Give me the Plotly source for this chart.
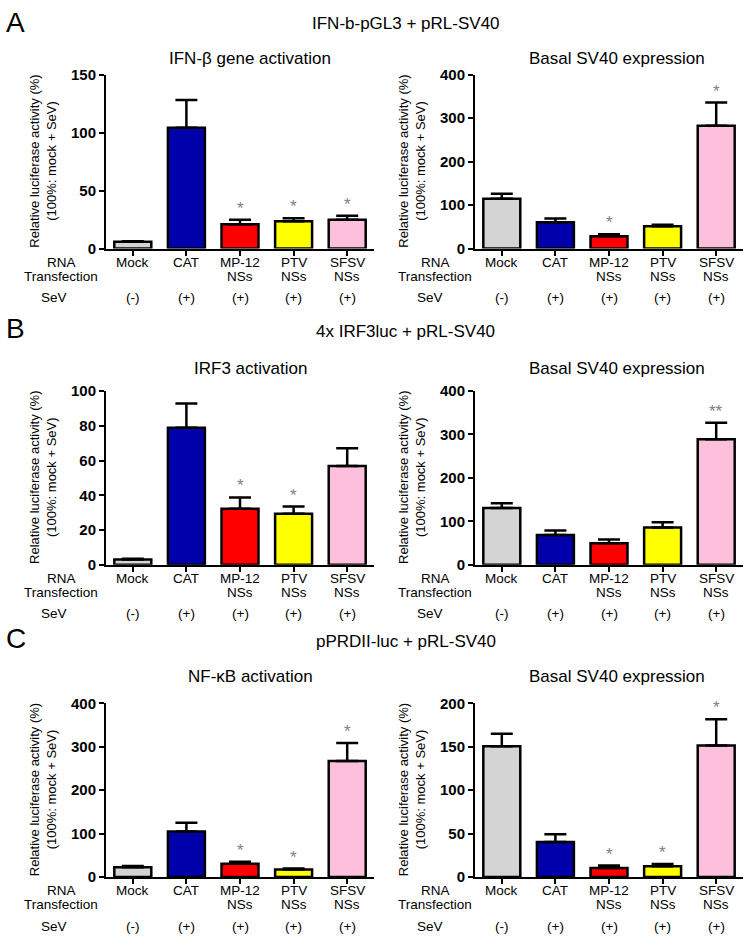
import plotly.graph_objects as go

W, H = 749, 945
FONT = "Liberation Sans, Arial, sans-serif"

cat_line1 = ["Mock", "CAT", "MP-12", "PTV", "SFSV"]
cat_line2 = ["", "", "NSs", "NSs", "NSs"]
sev_status = ["(-)", "(+)", "(+)", "(+)", "(+)"]
bar_colors = ["#d4d4d4", "#0000aa", "#ff0000", "#ffff00", "#fcbfdc"]

row_titles = ["IFN-b-pGL3 + pRL-SV40", "4x IRF3luc + pRL-SV40", "pPRDII-luc + pRL-SV40"]
row_letters = ["A", "B", "C"]

# A
ifnb_title = "IFN-β gene activation"
ifnb_vals = [6.0, 104.4, 21.1, 23.6, 24.8]
ifnb_err = [0.4, 23.9, 3.7, 2.6, 3.6]
ifnb_sig = ["", "", "*", "*", "*"]

svA_title = "Basal SV40 expression"
svA_vals = [114.7, 60.4, 28.7, 51.3, 283.0]
svA_err = [11.3, 9.0, 4.5, 3.7, 53.0]
svA_sig = ["", "", "*", "", "*"]

# B
irf3_title = "IRF3 activation"
irf3_vals = [3.0, 78.9, 32.2, 29.4, 56.9]
irf3_err = [0.5, 13.9, 6.6, 4.1, 10.1]
irf3_sig = ["", "", "*", "*", ""]

svB_title = "Basal SV40 expression"
svB_vals = [131.0, 68.5, 49.7, 85.9, 289.0]
svB_err = [10.6, 10.5, 8.3, 12.1, 38.0]
svB_sig = ["", "", "", "", "**"]

# C
nfkb_title = "NF-κB activation"
nfkb_vals = [22.6, 104.7, 30.9, 17.3, 267.4]
nfkb_err = [3.0, 20.3, 4.5, 2.3, 41.4]
nfkb_sig = ["", "", "*", "*", "*"]

svC_title = "Basal SV40 expression"
svC_vals = [150.7, 40.3, 10.5, 12.4, 151.4]
svC_err = [14.3, 9.0, 2.7, 2.6, 30.1]
svC_sig = ["", "", "*", "*", "*"]

y_max = [150, 400, 100, 400, 400, 200]
y_step = [50, 100, 20, 100, 100, 50]

panels = [
    (ifnb_title, ifnb_vals, ifnb_err, ifnb_sig),
    (svA_title, svA_vals, svA_err, svA_sig),
    (irf3_title, irf3_vals, irf3_err, irf3_sig),
    (svB_title, svB_vals, svB_err, svB_sig),
    (nfkb_title, nfkb_vals, nfkb_err, nfkb_sig),
    (svC_title, svC_vals, svC_err, svC_sig),
]

# layout geometry in pixels
row_plot_px = [(67, 244), (389, 566), (707, 884)]   # top, bottom (y=0)
col_plot_px = [(106, 374), (475, 743)]
row_title_y = [15, 328, 644]
letter_y = [14, 325, 641]
sub_title_y = [50, 366, 680]
sub_title_x = [250, 617]
rna_x = [61, 435]
sev_x = [54, 430]
line1_dy, line2_dy, sev_dy = 14, 28, 50


def px(x):
    return x / W


def py(y):
    return 1 - y / H


def label(text, x, y, xref="paper", size=13.5, **kw):
    d = dict(text=text, x=x, y=y, xref=xref, yref="paper", showarrow=False,
             xanchor="center", yanchor="middle",
             font=dict(family=FONT, size=size, color="black"))
    d.update(kw)
    return d


fig = go.Figure()
annotations = []
x_pos = list(range(len(cat_line1)))

for i, (title, vals, errs, sig) in enumerate(panels):
    r, c = divmod(i, 2)
    n = i + 1
    xa = "x" if n == 1 else f"x{n}"
    ya = "y" if n == 1 else f"y{n}"
    fig.add_trace(go.Bar(
        x=x_pos, y=vals, xaxis=xa, yaxis=ya, width=0.69,
        marker=dict(color=bar_colors, line=dict(color="black", width=2.5)),
        error_y=dict(type="data", array=errs, arrayminus=[0] * len(errs),
                     symmetric=False, color="black", thickness=2.5, width=11),
        showlegend=False, hoverinfo="y",
    ))
    top, bot = row_plot_px[r]
    x0, x1 = col_plot_px[c]
    fig.layout[f"xaxis{'' if n == 1 else n}"] = dict(
        domain=[px(x0), px(x1)], anchor=ya, range=[-0.5, 4.5],
        tickvals=x_pos, showticklabels=False, showline=True, linewidth=2,
        linecolor="black", ticks="outside", ticklen=5, tickwidth=2,
        tickcolor="black", showgrid=False, zeroline=False, fixedrange=True,
    )
    fig.layout[f"yaxis{'' if n == 1 else n}"] = dict(
        domain=[py(bot), py(top)], anchor=xa, range=[0, y_max[i]],
        tickvals=list(range(0, y_max[i] + 1, y_step[i])),
        showline=True, linewidth=2, linecolor="black", ticks="outside",
        ticklen=5, tickwidth=2, tickcolor="black", showgrid=False,
        zeroline=False, fixedrange=True,
        tickfont=dict(family=FONT, size=15, color="black", weight="bold"),
    )
    annotations.append(label(title, px(sub_title_x[c]), py(sub_title_y[r]), size=17))
    annotations.append(label("Relative luciferase activity (%)<br>(100%: mock + SeV)",
                             px(x0 - 63), py((top + bot) / 2), size=13, textangle=-90))
    annotations.append(label("RNA", px(rna_x[c]), py(bot + line1_dy)))
    annotations.append(label("Transfection", px(rna_x[c]), py(bot + line2_dy)))
    annotations.append(label("SeV", px(sev_x[c]), py(bot + sev_dy)))
    for k in x_pos:
        annotations.append(label(cat_line1[k], x_pos[k], py(bot + line1_dy), xref=xa))
        if cat_line2[k]:
            annotations.append(label(cat_line2[k], x_pos[k], py(bot + line2_dy), xref=xa))
        annotations.append(label(sev_status[k], x_pos[k], py(bot + sev_dy), xref=xa))
    for k, s in enumerate(sig):
        if s:
            annotations.append(dict(text=s, x=x_pos[k], y=vals[k] + errs[k],
                                    xref=xa, yref=ya, showarrow=False,
                                    xanchor="center", yanchor="bottom", yshift=0,
                                    font=dict(family=FONT, size=17, color="#808080")))

for r in range(3):
    annotations.append(label(row_titles[r], px(406), py(row_title_y[r]), size=17))
    annotations.append(label(row_letters[r], px(4), py(letter_y[r]), size=28,
                             xanchor="left"))

fig.update_layout(
    width=W, height=H, margin=dict(l=0, r=0, t=0, b=0),
    paper_bgcolor="white", plot_bgcolor="white",
    annotations=annotations, bargap=0.3,
    font=dict(family=FONT, color="black"),
)

page_css = (
    "var d=document.documentElement, b=document.body;"
    "d.style.margin='0'; d.style.padding='0'; d.style.overflow='hidden';"
    "b.style.margin='0'; b.style.padding='0'; b.style.overflow='hidden';"
)
fig.write_html("out.html", config={"displayModeBar": False}, post_script=page_css)
